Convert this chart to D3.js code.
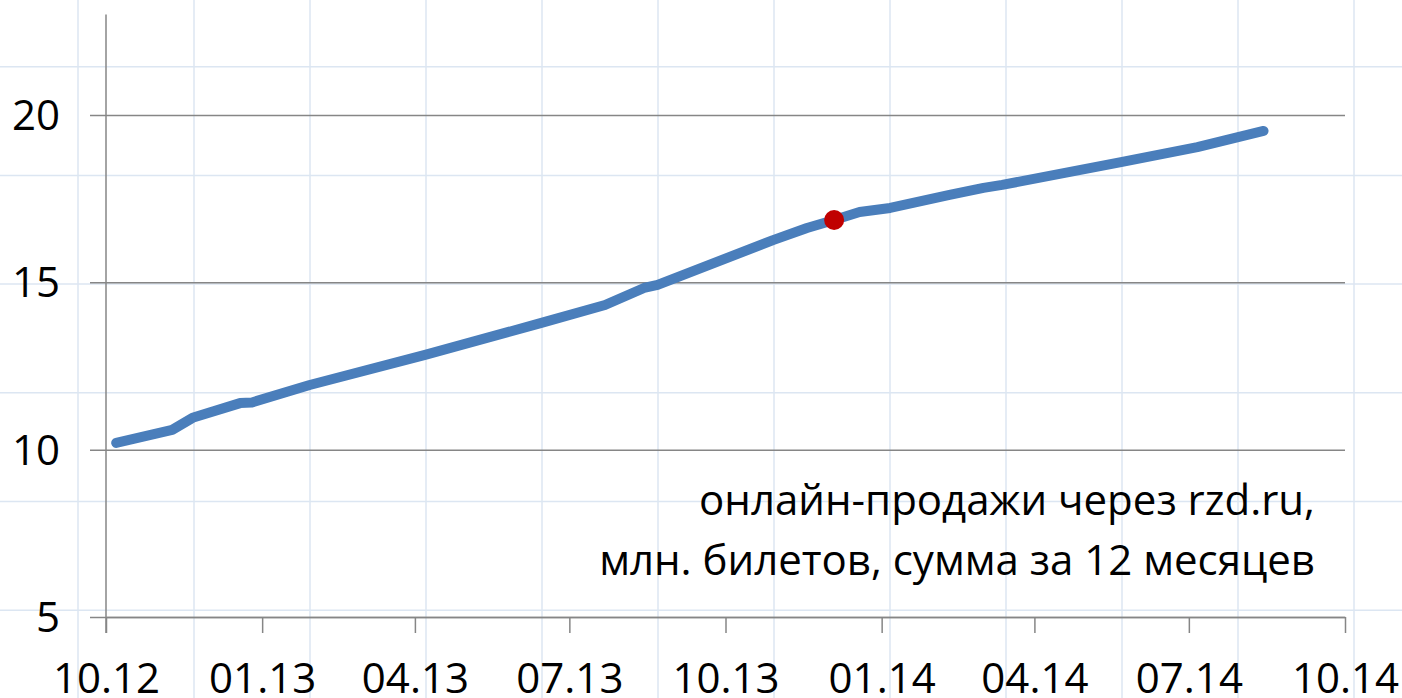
<html>
<head>
  <meta charset="utf-8" />
  <script src="https://cdnjs.cloudflare.com/ajax/libs/d3/7.8.5/d3.min.js"></script>
  <style>
    body { margin: 0; background: #fff; }
    svg text { font-family: "Open Sans", "Noto Sans", sans-serif; fill: #000; }
    .axis path.domain { stroke: #868686; stroke-width: 1.5; }
    .axis .tick line { stroke: #868686; stroke-width: 1.5; }
  </style>
</head>
<body>
  <svg width="1402" height="698"></svg>
  <script>
    // 12-month rolling sum of online ticket sales via rzd.ru, mln tickets
    var dates  = ["2012-10-07", "2012-11-09", "2012-11-21", "2012-12-19", "2012-12-26",
                  "2013-01-29", "2013-04-07", "2013-06-14", "2013-07-22", "2013-08-14",
                  "2013-08-22", "2013-10-29", "2013-11-18", "2013-12-04", "2013-12-19",
                  "2014-01-06", "2014-02-10", "2014-03-02", "2014-03-13", "2014-05-22",
                  "2014-07-06", "2014-08-14"]
    var values = [10.20, 10.59, 10.95, 11.39, 11.41,
                  11.93, 12.83, 13.78, 14.32, 14.83,
                  14.92, 16.26, 16.62, 16.86, 17.10,
                  17.22, 17.61, 17.82, 17.91, 18.59,
                  19.04, 19.52]
    var highlight   = "2013-12-04"
    var yTicks      = [5, 10, 15, 20]
    var xTickDates  = ["2012-10-01", "2013-01-01", "2013-04-01", "2013-07-01", "2013-10-01",
                       "2014-01-01", "2014-04-01", "2014-07-01", "2014-10-01"]
    var noteLines   = ["онлайн-продажи через rzd.ru,", "млн. билетов, сумма за 12 месяцев"]

    var parse = d3.timeParse("%Y-%m-%d")
    var data  = dates.map((d, i) => ({ date: parse(d), value: values[i] }))

    var svg = d3.select("svg")

    // graph-paper background
    var paper = svg.append("g").attr("stroke", "#dce6f2").attr("stroke-width", 1.5)
    paper.selectAll("line.v").data(d3.range(78, 1402, 116)).enter().append("line")
      .attr("x1", d => d).attr("x2", d => d).attr("y1", 0).attr("y2", 698)
    paper.selectAll("line.h").data(d3.range(66.7, 698, 108.7)).enter().append("line")
      .attr("y1", d => d).attr("y2", d => d).attr("x1", 0).attr("x2", 1402)

    var x = d3.scaleTime().domain([parse("2012-10-01"), parse("2014-10-01")]).range([106, 1345])
    var y = d3.scaleLinear().domain([5, 23]).range([617, 14.5])

    // horizontal gridlines with left ticks
    svg.append("g")
      .attr("class", "axis")
      .attr("transform", "translate(1345,0)")
      .call(d3.axisLeft(y).tickValues(yTicks).tickSize(1255).tickFormat(""))
      .call(g => g.select(".domain").remove())

    svg.append("g")
      .selectAll("text")
      .data(yTicks)
      .enter()
      .append("text")
        .attr("x", 60)
        .attr("y", d => y(d))
        .attr("dy", "0.36em")
        .attr("text-anchor", "end")
        .style("font-size", "42px")
        .text(d => d)

    // y axis line
    svg.append("line")
      .attr("x1", x.range()[0]).attr("x2", x.range()[0])
      .attr("y1", y(23)).attr("y2", y(5) + 16)
      .attr("stroke", "#868686").attr("stroke-width", 1.5)

    // x axis
    var xAxis = svg.append("g")
      .attr("class", "axis")
      .attr("transform", `translate(0,${y(5)})`)
      .call(d3.axisBottom(x).tickValues(xTickDates.map(parse)).tickSize(16)
              .tickSizeOuter(0).tickFormat(d3.timeFormat("%m.%y")))
    xAxis.selectAll(".tick text")
      .attr("y", 46)
      .attr("dy", "0.71em")
      .style("font-size", "42px")
      .style("font-family", "'Open Sans', sans-serif")
      .attr("fill", "#000")

    var line = d3.line()
      .x(d => x(d.date))
      .y(d => y(d.value))
      .curve(d3.curveLinear)

    svg.append("path")
      .datum(data)
      .attr("d", line)
      .attr("fill", "none")
      .attr("stroke", "#4a7ebb")
      .attr("stroke-width", 10)
      .attr("stroke-linecap", "round")
      .attr("stroke-linejoin", "round")

    svg.append("circle")
      .datum(data.find(d => +d.date === +parse(highlight)))
      .attr("cx", d => x(d.date))
      .attr("cy", d => y(d.value))
      .attr("r", 10)
      .attr("fill", "#c00000")

    svg.append("g")
      .selectAll("text")
      .data(noteLines)
      .enter()
      .append("text")
        .attr("x", 1315)
        .attr("y", (d, i) => 515 + i * 60)
        .attr("text-anchor", "end")
        .style("font-size", "42px")
        .text(d => d)
  </script>
</body>
</html>
